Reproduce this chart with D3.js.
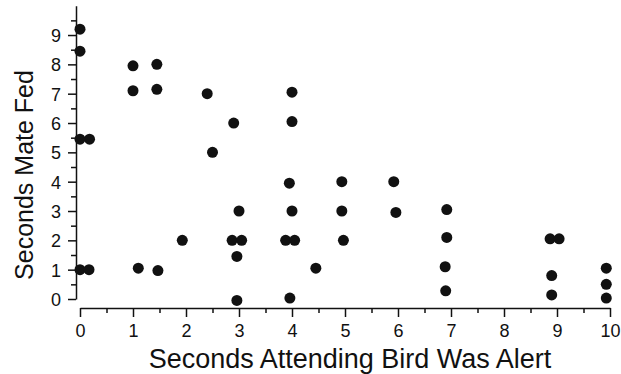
<!DOCTYPE html>
<html>
<head>
<meta charset="utf-8">
<script src="https://cdn.jsdelivr.net/npm/d3@7"></script>
<style>
  body { margin: 0; background: #fff; }
  svg { display: block; }
  .axis text { font-family: "Liberation Sans", Arial, sans-serif; font-size: 18px; fill: #111; }
  .axis line, .axis path { stroke: #111; stroke-width: 1.5; }
  .title { font-family: "Liberation Sans", Arial, sans-serif; fill: #111; }
</style>
</head>
<body>
<div id="container"></div>
<script>
// seconds the attending bird was alert vs seconds its mate fed
var alertSecs = [0, 0, 1, 1, 1.45, 1.45, 2.4, 2.9, 4, 4,
  0, 0.18, 2.5, 3.95, 4, 3, 2.87, 3.05, 1.93, 3.88,
  4.05, 2.96, 2.96, 3.96, 0, 0.17, 1.1, 1.47, 4.45, 4.94,
  4.94, 4.97, 5.92, 5.96, 6.92, 6.92, 6.89, 6.9, 8.87, 9.04,
  8.9, 8.9, 9.93, 9.93, 9.93];
var mateFedSecs = [9.2, 8.45, 7.95, 7.1, 8.0, 7.15, 7.0, 6.0, 7.05, 6.05,
  5.45, 5.45, 5.0, 3.95, 3.0, 3.0, 2.0, 2.0, 2.0, 2.0,
  2.0, 1.45, -0.05, 0.03, 1.0, 1.0, 1.05, 0.97, 1.05, 4.0,
  3.0, 2.0, 4.0, 2.95, 3.05, 2.1, 1.1, 0.28, 2.05, 2.05,
  0.8, 0.14, 1.05, 0.5, 0.03];
var xTicks = [0, 1, 2, 3, 4, 5, 6, 7, 8, 9, 10];
var yTicks = [0, 1, 2, 3, 4, 5, 6, 7, 8, 9];

var width = 621, height = 374;

var svg = d3.select("div#container")
  .append("svg")
  .attr("width", width)
  .attr("height", height);

var x = d3.scaleLinear().domain([0, 10]).range([80, 610]);
var y = d3.scaleLinear().domain([0, 10]).range([299, 5.7]);

// y axis, sits a little left of x = 0
svg.append("g")
  .attr("class", "axis")
  .attr("transform", "translate(76,0)")
  .call(d3.axisLeft(y).tickValues(yTicks).tickSize(8).tickSizeOuter(0).tickPadding(7))
  .call(function(g) { g.selectAll("text").attr("dy", "0.36em"); });

svg.append("g")
  .attr("class", "axis")
  .attr("transform", "translate(76,0)")
  .call(d3.axisLeft(y).tickValues(d3.range(0.5, 10, 1)).tickSize(5).tickFormat(""))
  .call(function(g) { g.select(".domain").remove(); });

// x axis, separate line below the plot
svg.append("g")
  .attr("class", "axis")
  .attr("transform", "translate(0,308)")
  .call(d3.axisBottom(x).tickValues(xTicks).tickSize(9).tickSizeOuter(0).tickPadding(7));

svg.append("g")
  .attr("class", "axis")
  .attr("transform", "translate(0,308)")
  .call(d3.axisBottom(x).tickValues(d3.range(0.5, 10, 1)).tickSize(5).tickFormat(""))
  .call(function(g) { g.select(".domain").remove(); });

svg.append("g")
  .selectAll("circle")
  .data(alertSecs)
  .enter().append("circle")
  .attr("cx", function(d) { return x(d); })
  .attr("cy", function(d, i) { return y(mateFedSecs[i]); })
  .attr("r", 5.5)
  .attr("fill", "#111");

svg.append("text")
  .attr("class", "title")
  .attr("x", 350)
  .attr("y", 368)
  .attr("text-anchor", "middle")
  .style("font-size", "27px")
  .text("Seconds Attending Bird Was Alert");

svg.append("text")
  .attr("class", "title")
  .attr("transform", "translate(33,175) rotate(-90)")
  .attr("text-anchor", "middle")
  .style("font-size", "25px")
  .text("Seconds Mate Fed");
</script>
</body>
</html>
